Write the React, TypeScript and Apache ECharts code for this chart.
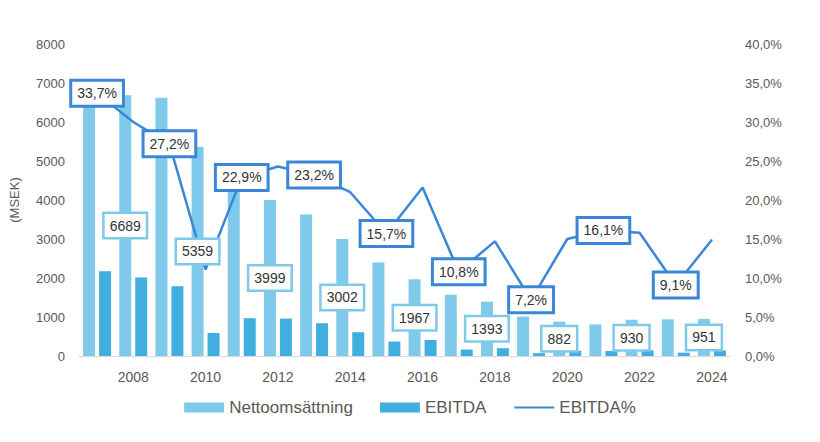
import React, { useEffect, useRef } from "react";
import * as echarts from "echarts";

const years = ["2007","2008","2009","2010","2011","2012","2013","2014","2015","2016","2017","2018","2019","2020","2021","2022","2023","2024"];
const netSales = [6450, 6689, 6620, 5359, 4240, 3999, 3630, 3002, 2400, 1967, 1570, 1393, 1010, 882, 810, 930, 940, 951];
const ebitda = [2170, 2010, 1790, 590, 970, 960, 840, 610, 370, 410, 165, 200, 73, 132, 130, 147, 86, 142];
const ebitdaPct = [33.7, 30.0, 27.2, 11.1, 22.9, 24.3, 23.2, 21.0, 15.7, 21.6, 10.8, 14.7, 7.2, 15.0, 16.1, 15.8, 9.1, 14.9];
const leftTicks = { min: 0, max: 8000, interval: 1000 };
const rightTicks = { min: 0, max: 40, interval: 5 };

const FONT = "'Liberation Sans', Arial, sans-serif";
const LIGHT = "#7fcaea";
const DARK = "#41aee0";
const LINE = "#3a87d8";
const TXT = "#595959";

const pct = (v: number) => v.toFixed(1).replace(".", ",") + "%";

export default function App() {
  const ref = useRef<HTMLDivElement>(null);
  useEffect(() => {
    document.body.style.margin = "0";
    const chart = echarts.init(ref.current!, null, { renderer: "svg" });
    chart.setOption({
      animation: false,
      textStyle: { fontFamily: FONT },
      grid: { left: 76, right: 90, top: 44, bottom: 86 },
      legend: {
        bottom: 21,
        left: "center",
        itemWidth: 40,
        itemHeight: 10,
        itemGap: 27,
        textStyle: { fontSize: 17, color: TXT, fontFamily: FONT },
        data: [
          { name: "Nettoomsättning", icon: "rect" },
          { name: "EBITDA", icon: "rect" },
          { name: "EBITDA%", itemStyle: { opacity: 0 }, lineStyle: { width: 2 } },
        ],
      },
      xAxis: {
        type: "category",
        data: years,
        axisTick: { show: false },
        axisLine: { lineStyle: { color: "#d9d9d9", width: 1 } },
        axisLabel: {
          color: TXT,
          fontSize: 14,
          margin: 14,
          interval: (i: number) => i % 2 === 1,
        },
      },
      yAxis: [
        {
          type: "value",
          ...leftTicks,
          name: "(MSEK)",
          nameLocation: "middle",
          nameGap: 58,
          nameRotate: 90,
          nameTextStyle: { color: TXT, fontSize: 13 },
          splitLine: { show: false },
          axisLine: { show: false },
          axisTick: { show: false },
          axisLabel: { color: TXT, fontSize: 13, margin: 14, formatter: (v: number) => String(v) },
        },
        {
          type: "value",
          ...rightTicks,
          splitLine: { show: false },
          axisLine: { show: false },
          axisTick: { show: false },
          axisLabel: { color: TXT, fontSize: 13, margin: 15, formatter: (v: number) => pct(v) },
        },
      ],
      series: [
        {
          name: "Nettoomsättning",
          type: "bar",
          barWidth: 12,
          barGap: "33%",
          itemStyle: { color: LIGHT },
          data: netSales,
        },
        {
          name: "EBITDA",
          type: "bar",
          barWidth: 12,
          itemStyle: { color: DARK },
          data: ebitda,
        },
        {
          name: "EBITDA%",
          type: "line",
          yAxisIndex: 1,
          z: 5,
          symbol: "circle",
          symbolSize: 1,
          showSymbol: true,
          itemStyle: { color: LINE },
          lineStyle: { color: LINE, width: 2.5 },
          data: ebitdaPct.map((v, i) =>
            i % 2 === 0
              ? {
                  value: v,
                  label: {
                    show: true,
                    position: "inside",
                    formatter: pct(v),
                    color: "#333",
                    fontSize: 14,
                    backgroundColor: "#fff",
                    borderColor: LINE,
                    borderWidth: 3,
                    padding: [5, 5, 4, 5],
                  },
                }
              : v
          ),
        },
        {
          name: "netLabels",
          type: "scatter",
          z: 10,
          symbolSize: 0,
          silent: true,
          itemStyle: { opacity: 1, color: LIGHT },
          data: netSales.map((v, i) =>
            i % 2 === 1
              ? {
                  value: v / 2,
                  label: {
                    show: true,
                    position: "inside",
                    offset: [-8, 0],
                    formatter: String(v),
                    color: "#333",
                    opacity: 1,
                    fontSize: 14,
                    backgroundColor: "#fff",
                    borderColor: LIGHT,
                    borderWidth: 2.5,
                    padding: [5, 5, 4, 5],
                  },
                }
              : { value: v / 2, label: { show: false } }
          ),
        },
      ],
    });
    return () => chart.dispose();
  }, []);
  return <div ref={ref} style={{ width: 820, height: 442 }} />;
}
